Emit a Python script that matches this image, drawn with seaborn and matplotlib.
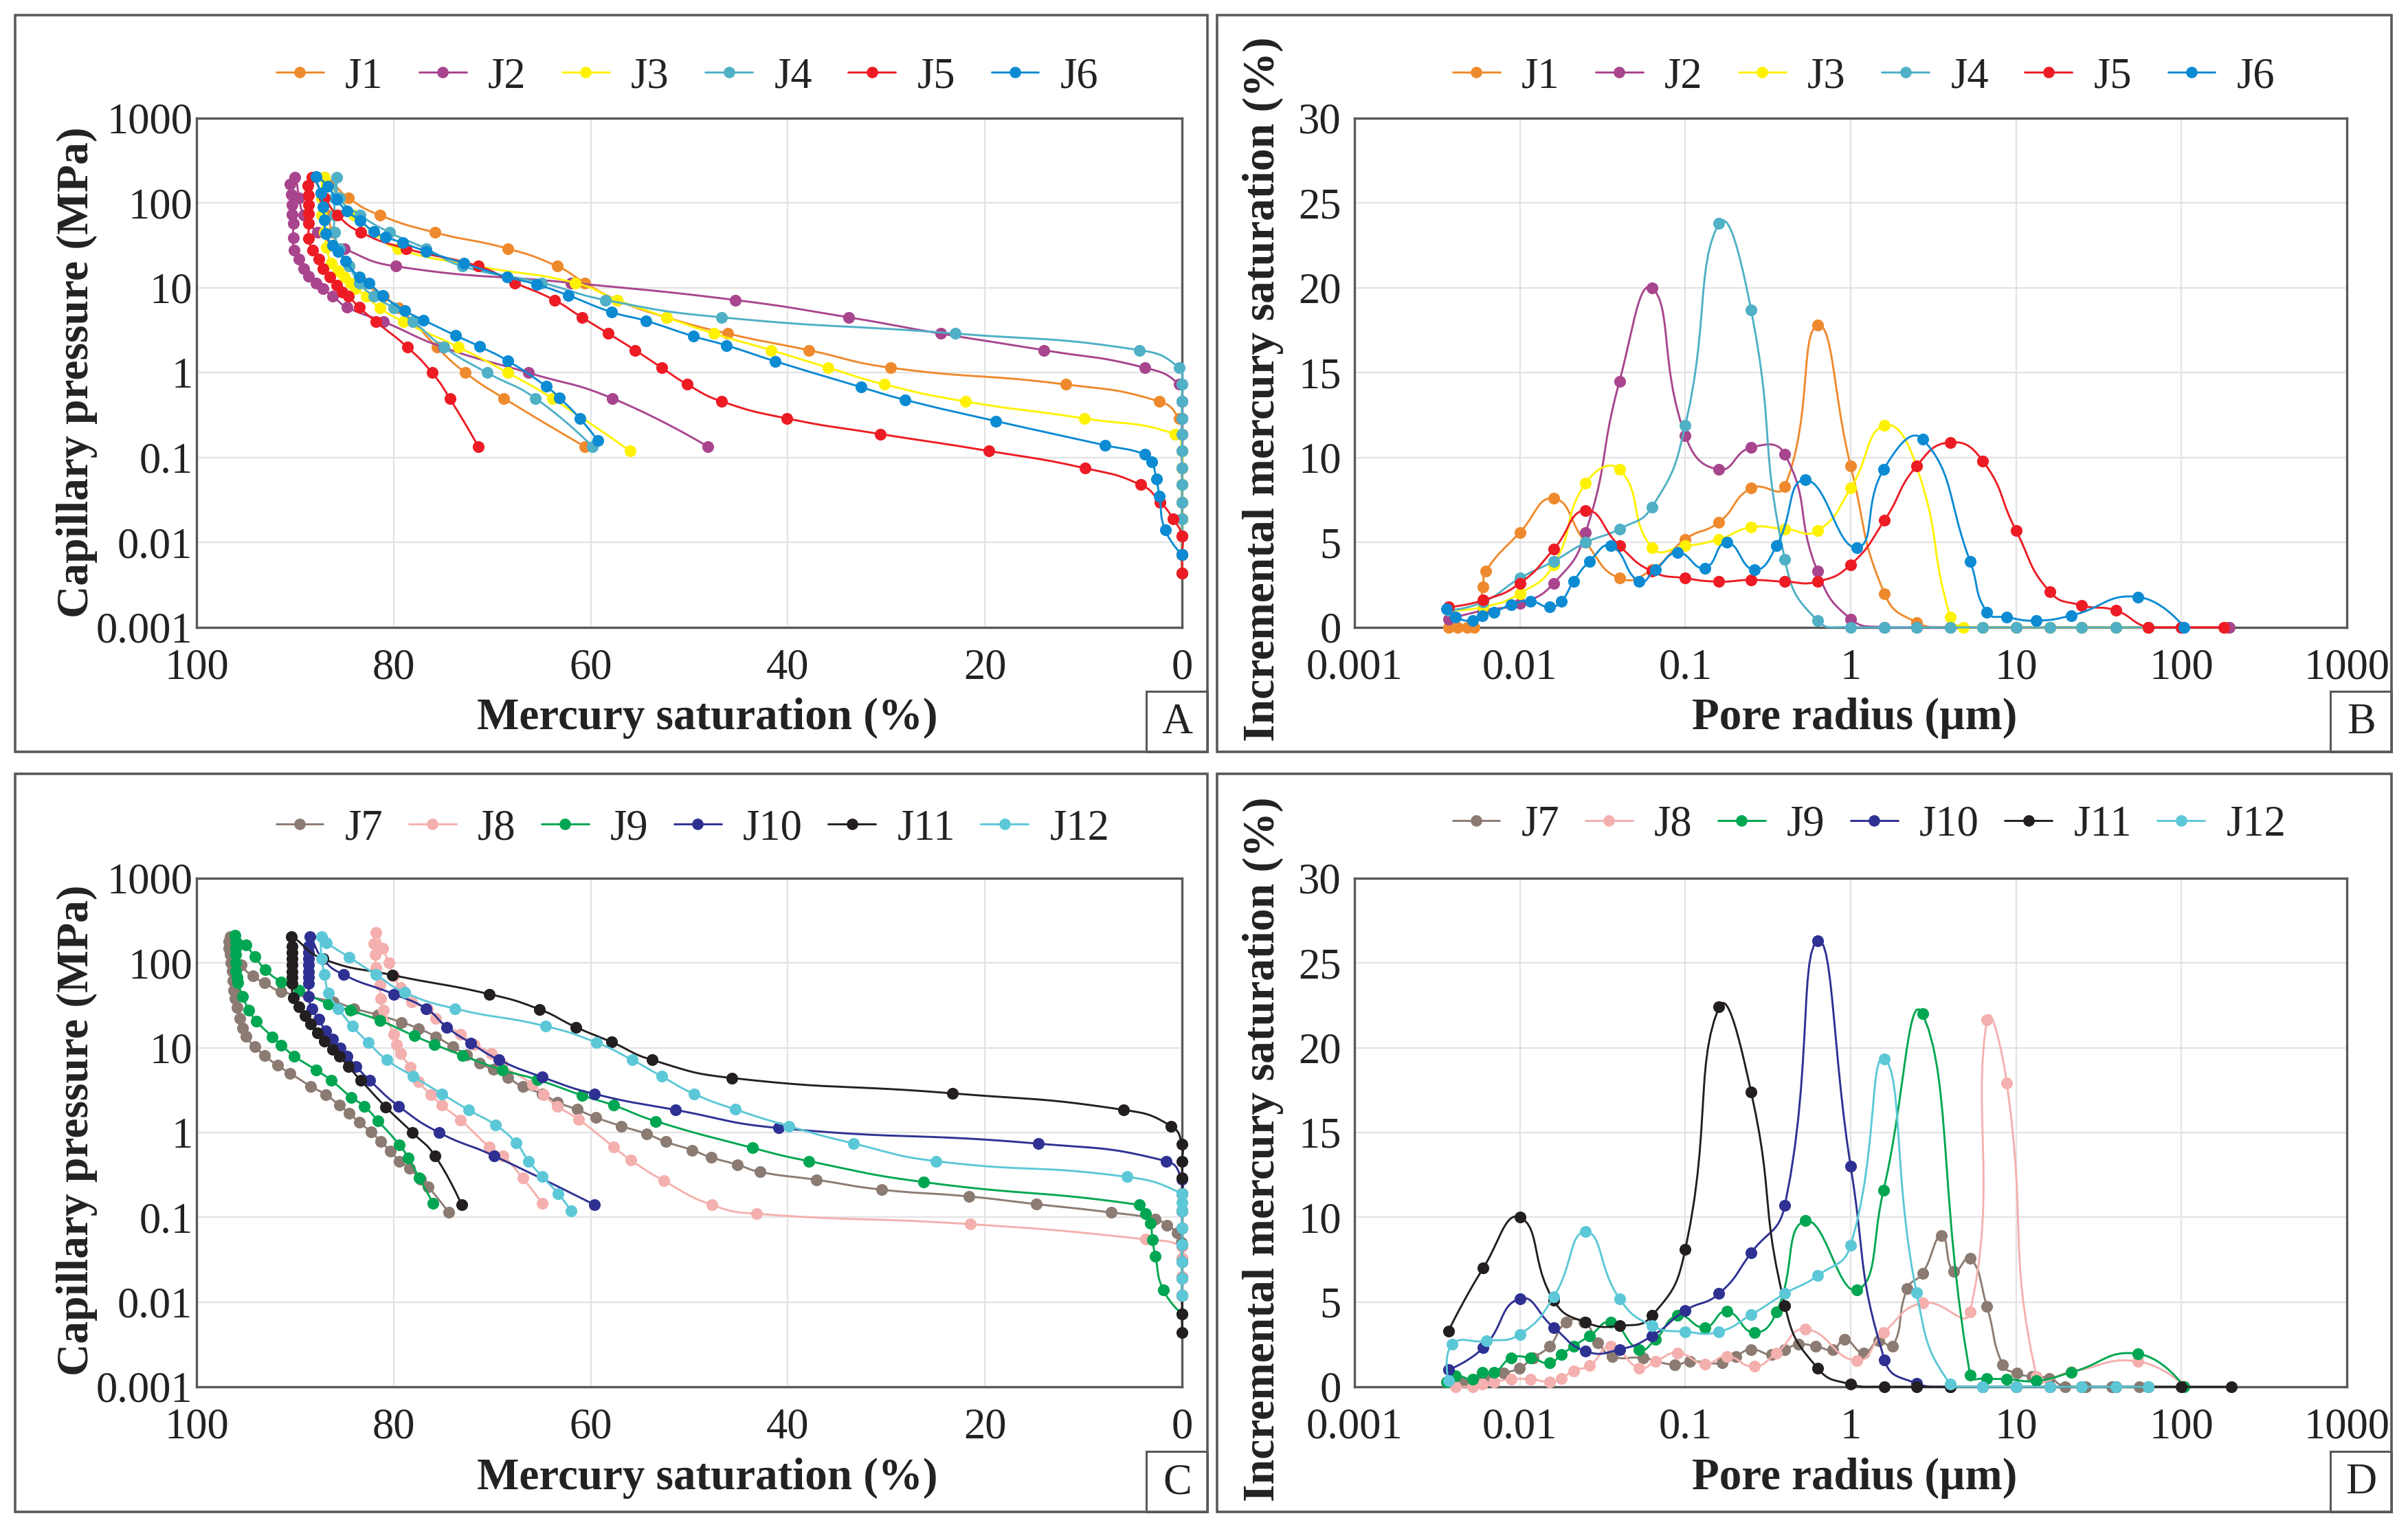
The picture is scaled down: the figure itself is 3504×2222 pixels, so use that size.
import numpy as np
import matplotlib
matplotlib.use('Agg')
import matplotlib.pyplot as plt
import seaborn as sns
from matplotlib.lines import Line2D
from matplotlib.patches import Rectangle

# Shared pressure / radius steps
P_UP = [0.0044, 0.0072, 0.012, 0.019, 0.03, 0.048, 0.075, 0.12, 0.19, 0.29, 0.46, 0.73,
        1.15, 1.85, 2.9, 4.5, 7.2, 11.5, 18, 29, 45, 72, 115, 200]
P_DN = [115, 72, 45, 29, 18, 11.5, 8, 5.8, 4, 2, 1, 0.5, 0.135]
RADIUS = [0.0037, 0.006, 0.01, 0.016, 0.025, 0.04, 0.063, 0.1, 0.16, 0.25, 0.4, 0.63,
          1, 1.6, 2.5, 4, 6.3, 10, 16, 25, 40, 63, 100, 190]
DENSE_RAD = [0.0036, 0.0041, 0.0052, 0.0059, 0.007, 0.0089, 0.0116, 0.0151, 0.0178, 0.0211,
             0.0264, 0.0356, 0.0527, 0.066, 0.09, 0.131, 0.178, 0.261, 0.356, 0.533,
             1.09, 1.58, 2.72, 5.27, 6.66, 8.8, 13.3, 21.5, 54.4, 104]

# Panel A: mercury saturation (%) and capillary pressure (MPa)
J1_sat = [0, 0, 0, 0, 0, 0, 0, 0, 0, 0.3, 2.3, 11.8, 29.6, 37.9, 46.1, 52.3, 57.3, 60.6, 63.4,
          68.4, 75.8, 81.4, 84.6, 87,
          87, 86.7, 86.2, 85.5, 84.5, 83, 81, 79.5, 78, 75.6, 72.7, 68.8, 60.6]
J2_sat = [0, 0, 0, 0, 0, 0, 0, 0, 0, 0, 0, 0.3, 3.8, 14, 24.5, 33.8, 45.3, 62, 79.8, 85, 87.7,
          89.1, 89.6, 90,
          90.5, 90.4, 90.3, 90.3, 90.2, 90.2, 90.1, 89.6, 89.1, 88.6, 87.9, 87.2, 86.2, 84.7,
          81, 75, 66.3, 57.8, 48.1]
J2_pc = P_UP + [167, 126, 96, 74, 58, 39, 28, 22, 17, 13.7, 11.5, 9.8, 8, 5.9,
                4, 2, 1, 0.5, 0.135]
J3_sat = [0, 0, 0, 0, 0, 0, 0, 0, 0.7, 9.9, 22, 30.2, 35.9, 41.7, 47.5, 52.3, 57.3, 61.6, 71.4,
          79.6, 82, 84, 85.5, 87,
          87.3, 87.3, 87, 86.8, 86.3, 85.6, 85, 84.4, 83.9, 82.8, 81.4, 79, 73.4, 68.4, 63.9, 56]
J3_pc = P_UP + [115, 72, 45, 30, 19.5, 16, 13.5, 11.5, 9.8, 8, 5.8, 4, 2, 1, 0.5, 0.12]
J4_sat = [0, 0, 0, 0, 0, 0, 0, 0, 0, 0, 0, 0, 0.3, 4.3, 23, 46.7, 58.5, 65, 73, 76.7, 80.4,
          83.4, 85.5, 85.8,
          86, 86, 86, 85.5, 84.5, 83.5, 82, 80, 78, 74.9, 70.5, 65.6, 59.8]
J5_sat = [0, 0, 0, 0.9, 2.2, 4.2, 9.8, 19.6, 30.6, 40.1, 46.7, 50.2, 52.8, 55.5, 58.2, 60.9,
          63.7, 67.7, 71.4, 78.7, 83.3, 85.7, 87, 88.3,
          88.7, 88.6, 88.6, 88.6, 88.6, 88.6, 88.2, 87.6, 87.2, 86.5, 85.8, 85.2, 84.6, 83.5,
          81.8, 78.6, 76.1, 74.3, 71.4]
J5_pc = P_UP + [160, 125, 95, 75, 58, 38, 28, 22, 17, 13.5, 10.7, 9, 8, 5.9,
                4, 2, 1, 0.5, 0.135]
J6_sat = [0, 1.7, 2.3, 2.6, 3.1, 3.8, 7.8, 18.9, 28.1, 32.6, 41.3, 46.2, 49.6, 54.4, 57.9, 62.3,
          65.5, 68.5, 72.9, 76.7, 79.1, 80.8, 82, 83.4, 84.7, 85.8, 86.7, 87.9,
          87.4, 87.2, 87, 86.9, 86.2, 85.6, 84.9, 83.5, 82.5, 81.1, 78.9, 77, 73.7, 71.3, 68.4,
          64.5, 63.2, 61.1, 59.3]
J6_pc = [0.0072, 0.014, 0.035, 0.056, 0.09, 0.11, 0.14, 0.27, 0.48, 0.68, 1.37, 2.1, 2.7, 4.1,
         5.2, 8.2, 11, 13.5, 19.5, 27, 34, 40, 46, 62, 80, 110, 158, 204,
         132, 91, 63, 44, 32, 27, 20.5, 13.5, 11.3, 8.1, 5.4, 4.2, 2.75, 2.05, 1.38,
         0.69, 0.51, 0.29, 0.16]

# Panel B: incremental mercury saturation (%) vs pore radius (um)
J1_rad = [0.0037, 0.0042, 0.0048, 0.0053, 0.006, 0.0062] + RADIUS[2:]
J1_inc = [0, 0, 0, 0, 2.4, 3.3, 5.6, 7.6, 5.0, 2.9, 3.4, 5.2, 6.2, 8.2, 8.3, 17.8, 9.5, 2, 0.3,
          0, 0, 0, 0, 0, 0, 0, 0, 0]
J2_rad = RADIUS[:-1] + [195]
J2_inc = [0.5, 1.0, 1.4, 2.6, 5.6, 14.5, 20, 11.3, 9.3, 10.6, 10.2, 3.3, 0.5, 0, 0, 0, 0, 0, 0,
          0, 0, 0, 0, 0]
J3_rad = RADIUS[:16] + [4.8, 6.3, 10, 16, 25, 40, 63]
J3_inc = [1.0, 1.2, 2.0, 3.7, 8.5, 9.3, 4.7, 4.8, 5.2, 5.9, 5.8, 5.7, 8.2, 11.9, 9.5, 0.6,
          0, 0, 0, 0, 0, 0, 0]
J4_rad = RADIUS[:22]
J4_inc = [1.0, 1.5, 2.9, 3.9, 5, 5.8, 7.1, 11.9, 23.8, 18.7, 4.0, 0.4, 0, 0, 0, 0, 0, 0, 0, 0, 0, 0]
J5_rad = RADIUS[:-1] + [180]
J5_inc = [1.2, 1.6, 2.6, 4.6, 6.9, 4.8, 3.3, 2.9, 2.7, 2.8, 2.7, 2.7, 3.7, 6.3, 9.5, 10.9, 9.8,
          5.7, 2.1, 1.3, 1, 0, 0, 0]
J6_inc = [1.1, 0.6, 0.4, 0.7, 0.9, 1.35, 1.55, 1.2, 1.55, 2.7, 3.9, 4.8, 2.7, 3.4, 4.4, 3.5, 5.0,
          3.4, 4.8, 8.7, 4.7, 9.3, 11.1, 3.9, 0.9, 0.6, 0.4, 0.7, 1.8, 0]

# Panel C
J7_sat = [0, 0, 0, 0.1, 0.5, 1.5, 2.7, 7.2, 14.8, 21.6, 30.5, 37.1, 42.8, 45.1, 47.8, 49.7, 52.4,
          54.3, 56.9, 59.5, 61.4, 63.4, 64.9, 66.9, 68.4, 69.9, 71.3, 72.6, 74, 75.7, 77.5, 79.2,
          81.6, 84, 86.1, 91.4, 93.1, 94.3, 95.5, 96.3, 96.6,
          96.7, 96.7, 96.6, 96.5, 96.4, 96.3, 96.2, 96.1, 95.9, 95.6, 95.3, 95, 94.1, 93.1, 91.8,
          90.5, 88.4, 86.9, 85.5, 84.5, 83.5, 82.3, 81.3, 80.3, 79.4, 78.4, 77.3, 76.5, 74.4]
J7_pc = [0.012, 0.02, 0.033, 0.05, 0.065, 0.08, 0.095, 0.114, 0.143, 0.176, 0.212, 0.277, 0.342,
         0.417, 0.509, 0.621, 0.778, 0.962, 1.19, 1.51, 1.87, 2.28, 2.85, 3.48, 4.42, 5.53, 6.58,
         8.24, 10.3, 13.5, 16.9, 20, 24.4, 29, 35, 46, 58.6, 70, 95.7, 152, 204,
         180, 150, 125, 100, 80, 62, 48, 38, 30, 22, 17, 13.7, 10.3, 8.1, 6.2,
         5, 3.5, 2.8, 2.1, 1.68, 1.32, 1.02, 0.78, 0.6, 0.46, 0.38, 0.28, 0.23, 0.114]
J8_sat = [0, 0, 0, 0, 3.7, 21.5, 43.2, 47.7, 52.6, 55.9, 57.7, 61.2, 63.4, 64.8, 65.9, 69, 70.1,
          71.8, 73.2, 75.7, 76.6, 78.2, 79.3, 80, 80.5, 81.1, 81.8,
          82, 81.9, 81.8, 81.4, 81.3, 81, 80, 79.7, 79.3, 78.3, 77.5, 76.2, 75.1, 73.2, 70.3,
          68.9, 66.9, 64.9]
J8_pc = [0.012, 0.02, 0.033, 0.045, 0.055, 0.083, 0.11, 0.14, 0.27, 0.47, 0.68, 1.42, 2.05, 2.8,
         3.7, 6.3, 8.5, 11, 14.5, 22, 29, 35, 51, 70, 100, 150, 229,
         170, 125, 89, 55, 38, 27.5, 14.5, 11, 8.5, 5.9, 4, 2.8, 2.1, 1.4, 0.68,
         0.53, 0.29, 0.145]
J9_sat = [0, 1.9, 2.7, 3, 3.2, 3.7, 4.3, 26.2, 37.9, 43.6, 53.4, 57.7, 60.9, 65.4, 69, 73, 75.9,
          77.9, 81.4, 84.4, 86.6, 89.6, 91.4, 93, 94.1, 95, 96.1,
          96, 96, 96, 96, 96, 95.9, 95.8, 95.3, 94.7, 93.9, 92.3, 91.4, 90.1, 87.9, 86.3, 84.3,
          83, 81.6, 79.4, 78.5, 77.4, 76]
J9_pc = [0.0072, 0.0139, 0.0345, 0.0545, 0.0855, 0.11, 0.14, 0.26, 0.46, 0.66, 1.36, 2.1, 2.75,
         4.2, 5.5, 8.1, 11, 13.8, 21, 27.5, 33, 48, 60, 83, 120, 162, 212,
         180, 150, 125, 100, 80, 68, 59, 40, 28, 20.5, 13.5, 10.8, 8, 5.5, 4.1, 2.6,
         2.05, 1.38, 0.71, 0.5, 0.29, 0.147]
J10_sat = [0, 0, 0, 1.6, 14.6, 40.9, 51.4, 59.6, 64.9, 69.3, 72.2, 74.6, 76.7, 80, 85.1, 87.2, 88.5,
           88.6, 88.6, 88.6, 88.6, 88.6, 88.6, 88.6,
           88.6, 88.3, 87.6, 86.9, 86.2, 85.4, 84.7, 83.8, 82.4, 79.5, 75.4, 69.8, 59.6]
J10_pc = [0.12, 0.19, 0.28, 0.46, 0.74, 1.13, 1.85, 2.85, 4.5, 7.2, 11.4, 17.5, 29, 43, 73, 112, 204,
          158, 132, 112, 95, 79, 68, 58,
          40, 29, 21.6, 15.8, 12.7, 10, 8, 6, 4.1, 2.05, 1, 0.53, 0.14]
J11_sat = [0, 0, 0, 0, 0, 0, 0, 0, 0, 0, 0, 0, 1.1, 5.9, 23.3, 45.7, 53.8, 57.9, 61.5, 65.2, 70.3,
           80.1, 87.2, 90.4,
           90.3, 90.3, 90.3, 90.3, 90.3, 90.3, 90.3,
           90.2, 89.6, 89, 88.4, 87.7, 87, 86.2, 85.5, 84.6, 83.3, 80.8, 78.1, 75.8, 73.1]
J11_pc = P_UP[:12] + [1.19, 1.85, 2.9, 4.4, 7.2, 11.7, 17.5, 28.4, 43, 72, 112, 204,
                      158, 132, 112, 95, 79, 68, 58,
                      39, 30.5, 23.9, 19, 15, 12, 9.5, 8, 6, 4.1, 2, 1, 0.53, 0.14]
J12_sat = [0, 0, 0, 0, 0, 0, 0, 0, 5.6, 25, 33.3, 39.9, 45.3, 49.5, 52.8, 55.8, 59.4, 64.6, 73.8,
           78.9, 81.8, 84.5, 86.8, 87.3,
           87.3, 87, 86.6, 85.6, 84.2, 82.6, 80.7, 78, 75.1, 72.4, 69.7, 67.6, 66.3, 64.9,
           63.3, 62]
J12_pc = [0.012, 0.019, 0.03, 0.048, 0.075, 0.12, 0.15, 0.19, 0.3, 0.46, 0.74, 1.19, 1.87, 2.85,
          4.6, 7.2, 11.5, 18, 29, 45, 73, 117, 174, 204,
          112, 73, 44, 29, 18, 11.6, 7.2, 4.6, 2.85, 1.85, 1.23, 0.76, 0.46, 0.3,
          0.19, 0.12]

# Panel D
J7_rad = [0.0037, 0.0045, 0.0055, 0.0065, 0.008, 0.0099, 0.012, 0.0151, 0.0191, 0.0245, 0.0297,
          0.0363, 0.0556, 0.086, 0.107, 0.167, 0.202, 0.25, 0.333, 0.4, 0.484, 0.612, 0.783, 0.918,
          1.2, 1.48, 1.8, 2.2, 2.72, 3.55, 4.2, 5.27, 6.66, 8.3, 10.1, 12.5, 15.9, 19.8, 26.4, 38,
          55.6, 102]
J7_inc = [0.3, 0.3, 0.4, 0.5, 0.8, 1.1, 1.7, 2.4, 3.8, 3.8, 2.6, 1.8, 1.7, 1.3, 1.5, 1.4, 1.8, 2.2,
          1.9, 2.2, 2.5, 2.4, 2.2, 2.8, 2, 2.7, 2.4, 5.8, 6.7, 8.9, 6.8, 7.6, 4.75, 1.3, 0.8, 0.6,
          0.5, 0, 0, 0, 0, 0]
J8_inc = [0.3, 0, 0, 0.15, 0.3, 0.45, 0.45, 0.3, 0.5, 0.95, 1.25, 2.4, 1.1, 1.5, 2, 1.35, 1.8, 1.2,
          2, 3.4, 1.55, 3.2, 4.95, 4.4, 21.65, 17.9, 0.6, 0.9, 1.5, 0.05]
J9_inc = [0.3, 0.65, 0.45, 0.85, 0.85, 1.7, 1.7, 1.4, 1.9, 2.4, 3, 3.8, 2.2, 2.8, 4.2, 3.5, 4.45,
          3.2, 4.4, 9.8, 5.7, 11.6, 22, 0.7, 0.5, 0.45, 0.35, 0.85, 1.95, 0]
J10_rad = RADIUS[:16]
J10_inc = [1, 2.3, 5.2, 3.5, 2.1, 2.2, 3, 4.5, 5.5, 7.9, 10.7, 26.3, 13, 1.6, 0.2, 0]
J11_rad = RADIUS[:-1] + [200]
J11_inc = [3.3, 7, 10, 5.1, 3.8, 3.6, 4.2, 8.1, 22.4, 17.4, 4.8, 1.1, 0.15, 0, 0, 0, 0, 0, 0, 0,
           0, 0, 0, 0]
J12_rad = [0.0037, 0.0039, 0.0063] + RADIUS[2:22]
J12_inc = [0.35, 2.5, 2.7, 3.1, 5.3, 9.15, 5.2, 3.6, 3.25, 3.25, 4.25, 5.5, 6.55, 8.35, 19.35,
           5.55, 0.15, 0, 0, 0, 0, 0, 0]

COLORS_TOP = ['#EE8A2D', '#A8458E', '#FFF200', '#4FB0C6', '#ED1C24', '#0C8BD3']
COLORS_BOTTOM = ['#8C7B72', '#F4B0AE', '#00A651', '#2E3192', '#231F20', '#5CC8D7']
NAMES_TOP = ['J1', 'J2', 'J3', 'J4', 'J5', 'J6']
NAMES_BOTTOM = ['J7', 'J8', 'J9', 'J10', 'J11', 'J12']

SAT_TICKS = [100, 80, 60, 40, 20, 0]
PC_TICKS = [0.001, 0.01, 0.1, 1, 10, 100, 1000]
PC_LABELS = ['0.001', '0.01', '0.1', '1', '10', '100', '1000']
INC_TICKS = [0, 5, 10, 15, 20, 25, 30]

W, H = 3504, 2222
GRID = '#E3E3E3'
EDGE = '#58595B'
FONT = 22.5

sns.set_style('whitegrid')
plt.rcParams['font.family'] = ['Liberation Serif', 'DejaVu Serif']

fig = plt.figure(figsize=(W / 200, H / 200), dpi=200, facecolor='white')


def fx(px):
    return px / W


def fy(py):
    return 1 - py / H


def smooth(x, y, logx, logy, sx, sy, f=0.5, n=14):
    # Bezier through the points, done in pixel space like a spreadsheet smoothed line
    u = (np.log10(x) if logx else np.asarray(x, float)) * sx
    v = (np.log10(y) if logy else np.asarray(y, float)) * sy
    pts = np.column_stack([u, v])
    d = np.hypot(*np.diff(pts, axis=0).T)
    out = [pts[:1]]
    t = np.linspace(0, 1, n)[1:, None]
    for i in range(len(pts) - 1):
        c1, c2 = pts[i].copy(), pts[i + 1].copy()
        if i > 0 and d[i - 1] + d[i] > 0:
            c1 += (pts[i + 1] - pts[i - 1]) * d[i] / (d[i - 1] + d[i]) * f
        if i < len(pts) - 2 and d[i] + d[i + 1] > 0:
            c2 -= (pts[i + 2] - pts[i]) * d[i] / (d[i] + d[i + 1]) * f
        out.append((1 - t) ** 3 * pts[i] + 3 * (1 - t) ** 2 * t * c1
                   + 3 * (1 - t) * t ** 2 * c2 + t ** 3 * pts[i + 1])
    out = np.vstack(out)
    xs = 10 ** (out[:, 0] / sx) if logx else out[:, 0] / sx
    ys = 10 ** (out[:, 1] / sy) if logy else np.maximum(out[:, 1] / sy, 0)
    return xs, ys


def draw_series(ax, series, colors, logx, logy, sx, sy):
    for k, ((x, y), color) in enumerate(zip(series, colors)):
        xs, ys = smooth(x, y, logx, logy, sx, sy)
        sns.lineplot(x=xs, y=ys, sort=False, estimator=None, color=color, linewidth=1.05,
                     ax=ax, zorder=3 + k, clip_on=False)
        sns.scatterplot(x=x, y=y, color=color, s=38, linewidth=0, ax=ax, zorder=3 + k,
                        clip_on=False)


def add_panel(box, axbox, letter, xlabel, xlabel_x, ylabel, ylabel_xy, names, colors, legend_xy, colspace):
    left, top, right, bottom = box
    fig.add_artist(Rectangle((fx(left), fy(bottom)), fx(right - left), (bottom - top) / H,
                             fill=False, edgecolor=EDGE, linewidth=1.3))
    fig.add_artist(Rectangle((fx(right - 89), fy(bottom)), fx(89), 88 / H,
                             fill=False, edgecolor=EDGE, linewidth=1.1))
    fig.text(fx(right - 44), fy(bottom - 42), letter, fontsize=FONT, ha='center', va='center',
             color='#222222')
    a_left, a_top, a_right, a_bottom = axbox
    ax = fig.add_axes([fx(a_left), fy(a_bottom), fx(a_right - a_left), (a_bottom - a_top) / H])
    ax.grid(True, color=GRID, linewidth=0.8)
    ax.set_axisbelow(True)
    for spine in ax.spines.values():
        spine.set_color(EDGE)
        spine.set_linewidth(1.2)
    ax.tick_params(length=0, labelsize=FONT, labelcolor='#222222')
    fig.text(fx(xlabel_x), fy(bottom - 49), xlabel, fontsize=23.4, fontweight='bold',
             ha='center', va='center', color='#222222')
    fig.text(fx(ylabel_xy[0]), fy(ylabel_xy[1]), ylabel, fontsize=23.6, fontweight='bold',
             rotation=90, ha='center', va='center', color='#222222')
    handles = [Line2D([], [], color=c, linewidth=1.05, marker='o', markersize=6,
                      markeredgewidth=0, label=n) for n, c in zip(names, colors)]
    fig.legend(handles=handles, ncol=6, frameon=False, loc='center', fontsize=FONT,
               bbox_to_anchor=(fx(legend_xy[0]), fy(legend_xy[1])), handlelength=1.1,
               handletextpad=0.5, columnspacing=colspace, borderpad=0, labelcolor='#222222')
    return ax


def style_saturation(ax):
    ax.set_yscale('log')
    ax.set_xlim(100, 0)
    ax.set_ylim(0.001, 1000)
    ax.set_xticks(SAT_TICKS)
    ax.set_yticks(PC_TICKS)
    ax.set_yticklabels(PC_LABELS)
    ax.minorticks_off()
    ax.tick_params(axis='x', pad=11)
    ax.tick_params(axis='y', pad=2)


def style_radius(ax):
    ax.set_xscale('log')
    ax.set_xlim(0.001, 1000)
    ax.set_ylim(0, 30)
    ax.set_xticks(PC_TICKS)
    ax.set_xticklabels(PC_LABELS)
    ax.set_yticks(INC_TICKS)
    ax.minorticks_off()
    ax.tick_params(axis='x', pad=11)
    ax.tick_params(axis='y', pad=7)


SAT_LABEL = 'Mercury saturation (%)'
PC_LABEL = 'Capillary pressure (MPa)'
RAD_LABEL = 'Pore radius (µm)'
INC_LABEL = 'Incremental mercury saturation (%)'

# A
ax_a = add_panel((22, 22, 1757, 1094), (286, 172, 1720, 913), 'A', SAT_LABEL, 1029, PC_LABEL, (112, 542),
                 NAMES_TOP, COLORS_TOP, (1000, 112), 0.84)
style_saturation(ax_a)
draw_series(ax_a, [(J1_sat, P_UP + P_DN), (J2_sat, J2_pc), (J3_sat, J3_pc),
                   (J4_sat, P_UP + P_DN), (J5_sat, J5_pc), (J6_sat, J6_pc)],
            COLORS_TOP, False, True, 14.34, 123.5)

# B
ax_b = add_panel((1771, 22, 3480, 1094), (1971, 172, 3415, 913), 'B', RAD_LABEL, 2699, INC_LABEL, (1838, 566),
                 NAMES_TOP, COLORS_TOP, (2712, 112), 0.84)
style_radius(ax_b)
draw_series(ax_b, [(J1_rad, J1_inc), (J2_rad, J2_inc), (J3_rad, J3_inc),
                   (J4_rad, J4_inc), (J5_rad, J5_inc), (DENSE_RAD, J6_inc)],
            COLORS_TOP, True, False, 240.7, 24.7)

# C
ax_c = add_panel((22, 1126, 1757, 2200), (286, 1278, 1720, 2018), 'C', SAT_LABEL, 1029, PC_LABEL, (112, 1645),
                 NAMES_BOTTOM, COLORS_BOTTOM, (1008, 1206), 0.6)
style_saturation(ax_c)
draw_series(ax_c, [(J7_sat, J7_pc), (J8_sat, J8_pc), (J9_sat, J9_pc),
                   (J10_sat, J10_pc), (J11_sat, J11_pc), (J12_sat, J12_pc)],
            COLORS_BOTTOM, False, True, 14.34, 123.3)

# D
ax_d = add_panel((1771, 1126, 3480, 2200), (1971, 1278, 3415, 2018), 'D', RAD_LABEL, 2699, INC_LABEL, (1838, 1672),
                 NAMES_BOTTOM, COLORS_BOTTOM, (2720, 1201), 0.6)
style_radius(ax_d)
draw_series(ax_d, [(J7_rad, J7_inc), (DENSE_RAD, J8_inc), (DENSE_RAD, J9_inc),
                   (J10_rad, J10_inc), (J11_rad, J11_inc), (J12_rad, J12_inc)],
            COLORS_BOTTOM, True, False, 240.7, 24.7)

plt.savefig('out.png', dpi=200, facecolor='white')
